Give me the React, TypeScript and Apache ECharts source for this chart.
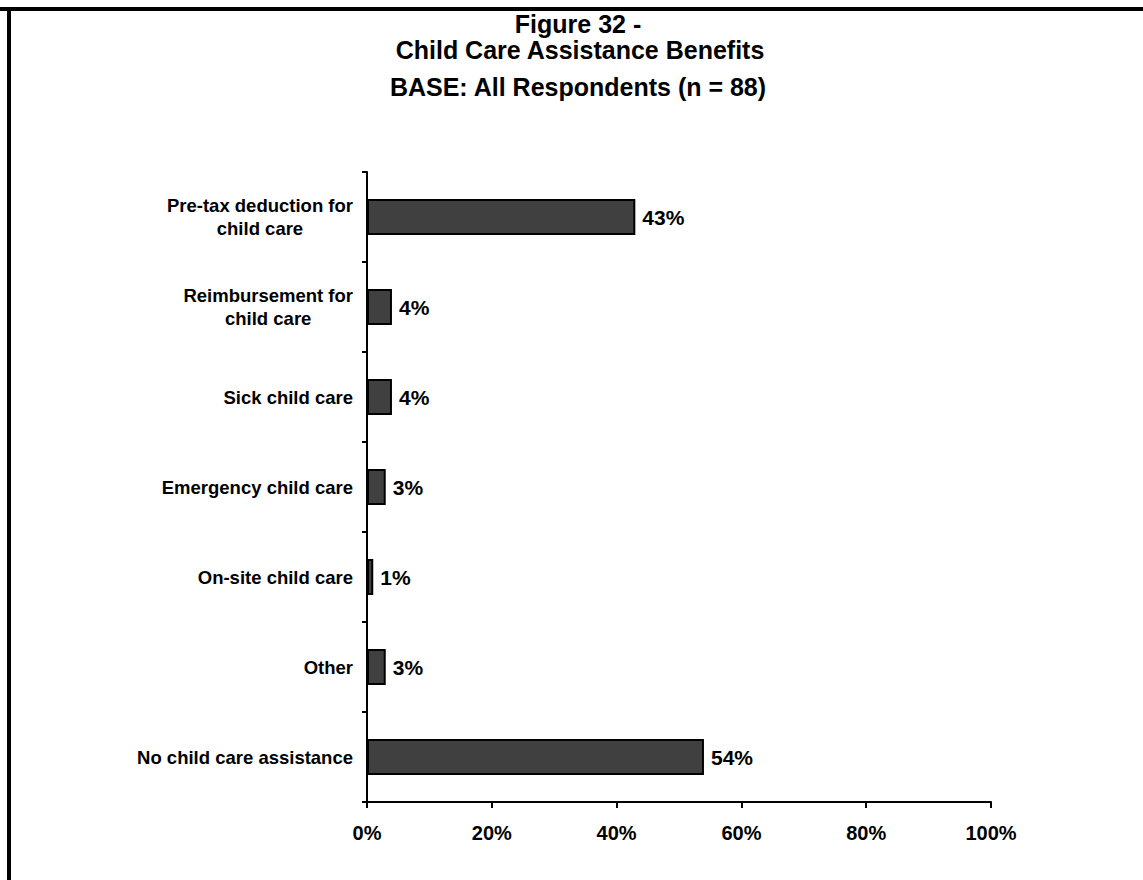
import React, { useEffect, useRef } from "react";
import * as echarts from "echarts";

const categories = [
  "Pre-tax deduction for\nchild care",
  "Reimbursement for\nchild care",
  "Sick child care",
  "Emergency child care",
  "On-site child care",
  "Other",
  "No child care assistance",
];
const values = [43, 4, 4, 3, 1, 3, 54];
const titleLines = ["Figure 32 -", "Child Care Assistance Benefits"];
const subtitle = "BASE: All Respondents (n = 88)";

const FONT = "'Liberation Sans', Arial, Helvetica, sans-serif";

export default function App() {
  const ref = useRef<HTMLDivElement>(null);

  useEffect(() => {
    document.body.style.margin = "0";
    const chart = echarts.init(ref.current!, null, { renderer: "svg" });
    chart.setOption({
      animation: false,
      backgroundColor: "#ffffff",
      textStyle: { fontFamily: FONT },
      graphic: [
        {
          type: "line",
          shape: { x1: 0, y1: 9, x2: 1143, y2: 9 },
          style: { stroke: "#000", lineWidth: 4 },
        },
        {
          type: "line",
          shape: { x1: 9, y1: 7, x2: 9, y2: 880 },
          style: { stroke: "#000", lineWidth: 4 },
        },
        {
          type: "text",
          x: 578,
          y: 24,
          style: {
            text: titleLines[0],
            font: `bold 25px ${FONT}`,
            fill: "#000",
            align: "center",
            verticalAlign: "middle",
          },
        },
        {
          type: "text",
          x: 580,
          y: 50,
          style: {
            text: titleLines[1],
            font: `bold 25px ${FONT}`,
            fill: "#000",
            align: "center",
            verticalAlign: "middle",
          },
        },
        {
          type: "text",
          x: 578,
          y: 87,
          style: {
            text: subtitle,
            font: `bold 25px ${FONT}`,
            fill: "#000",
            align: "center",
            verticalAlign: "middle",
          },
        },
      ],
      grid: { left: 367, right: 152, top: 172, bottom: 78, containLabel: false },
      xAxis: {
        type: "value",
        min: 0,
        max: 100,
        interval: 20,
        axisLine: { show: true, lineStyle: { color: "#000", width: 2 } },
        axisTick: { show: true, length: 6, lineStyle: { color: "#000", width: 2 } },
        splitLine: { show: false },
        axisLabel: {
          formatter: "{value}%",
          color: "#000",
          fontWeight: "bold",
          fontSize: 20,
          fontFamily: FONT,
          margin: 21,
        },
      },
      yAxis: {
        type: "category",
        inverse: true,
        data: categories,
        axisLine: { show: true, lineStyle: { color: "#000", width: 2 } },
        axisTick: { show: true, length: 5, lineStyle: { color: "#000", width: 2 } },
        axisLabel: {
          margin: 14,
          align: "right",
          // each line of a wrapped label is centred within its right-aligned block
          formatter: (v: string) =>
            v
              .split("\n")
              .map((line) => `{c|${line}}`)
              .join("\n"),
          rich: {
            c: {
              align: "center",
              color: "#000",
              fontWeight: "bold",
              fontSize: 18.5,
              fontFamily: FONT,
              lineHeight: 23,
            },
          },
        },
      },
      series: [
        {
          type: "bar",
          data: values,
          barWidth: 36,
          itemStyle: { color: "#404040", borderColor: "#000", borderWidth: 2 },
          label: {
            show: true,
            position: "right",
            distance: 7,
            formatter: "{c}%",
            color: "#000",
            fontWeight: "bold",
            fontSize: 21,
            fontFamily: FONT,
          },
        },
      ],
    });
    return () => chart.dispose();
  }, []);

  return <div ref={ref} style={{ width: 1143, height: 880 }} />;
}
